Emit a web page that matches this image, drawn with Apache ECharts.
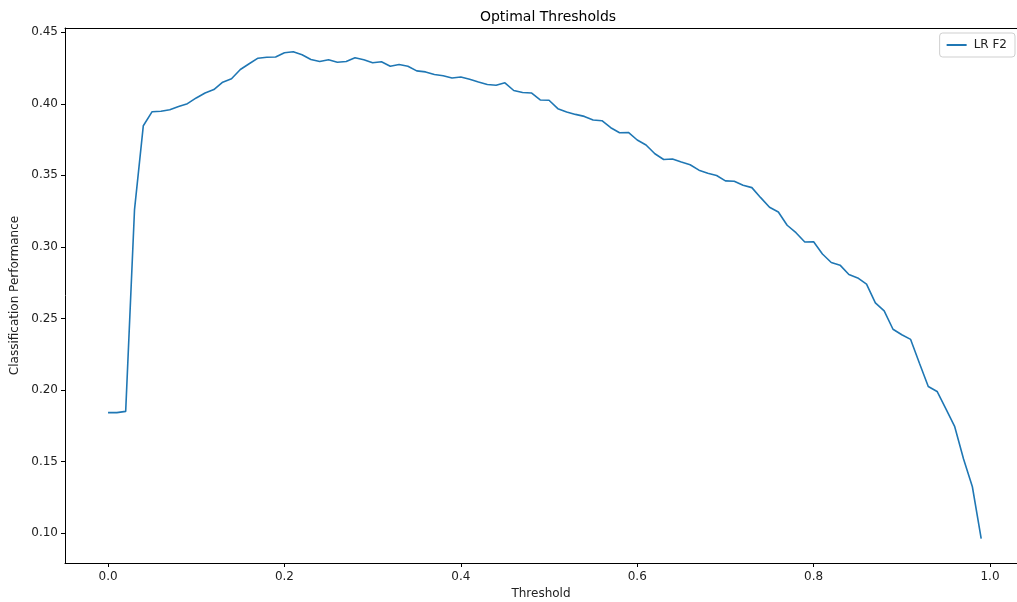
<!DOCTYPE html>
<html>
<head>
<meta charset="utf-8">
<script src="https://cdn.jsdelivr.net/npm/echarts@6/dist/echarts.min.js"></script>
<style>
html,body{margin:0;padding:0;background:#fff;}
#c{width:1017px;height:602px;}
</style>
</head>
<body>
<div id="c"></div>
<script>
const thresholds = [0.00,0.01,0.02,0.03,0.04,0.05,0.06,0.07,0.08,0.09,
0.10,0.11,0.12,0.13,0.14,0.15,0.16,0.17,0.18,0.19,
0.20,0.21,0.22,0.23,0.24,0.25,0.26,0.27,0.28,0.29,
0.30,0.31,0.32,0.33,0.34,0.35,0.36,0.37,0.38,0.39,
0.40,0.41,0.42,0.43,0.44,0.45,0.46,0.47,0.48,0.49,
0.50,0.51,0.52,0.53,0.54,0.55,0.56,0.57,0.58,0.59,
0.60,0.61,0.62,0.63,0.64,0.65,0.66,0.67,0.68,0.69,
0.70,0.71,0.72,0.73,0.74,0.75,0.76,0.77,0.78,0.79,
0.80,0.81,0.82,0.83,0.84,0.85,0.86,0.87,0.88,0.89,
0.90,0.91,0.92,0.93,0.94,0.95,0.96,0.97,0.98,0.99];

const lrF2 = [0.1841,0.1841,0.1850,0.3258,0.3847,0.3945,0.3948,0.3959,0.3982,0.4001,
0.4041,0.4076,0.4100,0.4151,0.4175,0.4240,0.4280,0.4319,0.4326,0.4327,
0.4357,0.4364,0.4343,0.4310,0.4296,0.4308,0.4291,0.4296,0.4322,0.4308,
0.4287,0.4294,0.4263,0.4275,0.4263,0.4230,0.4223,0.4205,0.4196,0.4181,
0.4188,0.4172,0.4153,0.4135,0.4130,0.4147,0.4093,0.4079,0.4076,0.4027,
0.4025,0.3966,0.3943,0.3926,0.3912,0.3887,0.3882,0.3833,0.3798,0.3800,
0.3747,0.3712,0.3651,0.3611,0.3614,0.3593,0.3574,0.3536,0.3515,0.3499,
0.3461,0.3459,0.3431,0.3414,0.3344,0.3277,0.3244,0.3151,0.3099,0.3034,
0.3036,0.2950,0.2891,0.2872,0.2807,0.2783,0.2739,0.2608,0.2552,0.2424,
0.2386,0.2353,0.2187,0.2024,0.1989,0.1867,0.1743,0.1517,0.1323,0.0960];

const xTicks = [0.0,0.2,0.4,0.6,0.8,1.0];
const yTicks = [0.10,0.15,0.20,0.25,0.30,0.35,0.40,0.45];

const seriesName = 'LR F2';
const chartTitle = 'Optimal Thresholds';
const xName = 'Threshold';
const yName = 'Classification Performance';

const font = 'DejaVu Sans';
const ink = '#222';

const chart = echarts.init(document.getElementById('c'), null, {renderer:'canvas'});
chart.setOption({
  animation:false,
  backgroundColor:'#fff',
  title:{
    text:chartTitle, left:543, top:5, textAlign:'center',
    textStyle:{fontFamily:font, fontSize:14, fontWeight:'normal', color:'#000'}
  },
  legend:{
    data:[seriesName], right:2, top:33,
    orient:'vertical',
    icon:'rect', itemWidth:20, itemHeight:2, itemGap:4,
    padding:[6,8,6,7],
    borderColor:'#cfcfcf', borderWidth:1, borderRadius:3,
    backgroundColor:'#fff',
    textStyle:{fontFamily:font, fontSize:12, color:ink, padding:[0,0,0,2]}
  },
  grid:{left:65, right:0, top:28, bottom:39, containLabel:false, outerBoundsMode:'none'},
  xAxis:[{
    type:'value', min:-0.0488, max:1.0306,
    splitLine:{show:false},
    axisLine:{show:true, onZero:false, lineStyle:{color:'#000', width:1}},
    axisTick:{show:true, inside:false, length:4, customValues:xTicks, lineStyle:{color:'#000'}},
    axisLabel:{show:true, customValues:xTicks, margin:8, formatter:v=>v.toFixed(1),
      fontFamily:font, fontSize:12, color:ink},
    name:xName, nameLocation:'middle', nameGap:25,
    nameTextStyle:{fontFamily:font, fontSize:12, color:ink}
  },{
    type:'value', position:'top', min:-0.0488, max:1.0306,
    splitLine:{show:false},
    axisLine:{show:true, onZero:false, lineStyle:{color:'#000', width:1}},
    axisTick:{show:false}, axisLabel:{show:false}
  }],
  yAxis:{
    type:'value', min:0.079, max:0.453,
    splitLine:{show:false},
    axisLine:{show:true, onZero:false, lineStyle:{color:'#000', width:1}},
    axisTick:{show:true, inside:false, length:4, customValues:yTicks, lineStyle:{color:'#000'}},
    axisLabel:{show:true, customValues:yTicks, margin:7, formatter:v=>v.toFixed(2),
      fontFamily:font, fontSize:12, color:ink},
    name:yName, nameLocation:'middle', nameGap:43, nameRotate:90,
    nameTextStyle:{fontFamily:font, fontSize:12, color:ink}
  },
  series:[{
    name:seriesName, type:'line', xAxisIndex:0,
    data:thresholds.map((t,i)=>[t, lrF2[i]]),
    showSymbol:false, symbol:'none',
    lineStyle:{color:'#1f77b4', width:1.6},
    itemStyle:{color:'#1f77b4'}
  }]
});
</script>
</body>
</html>
